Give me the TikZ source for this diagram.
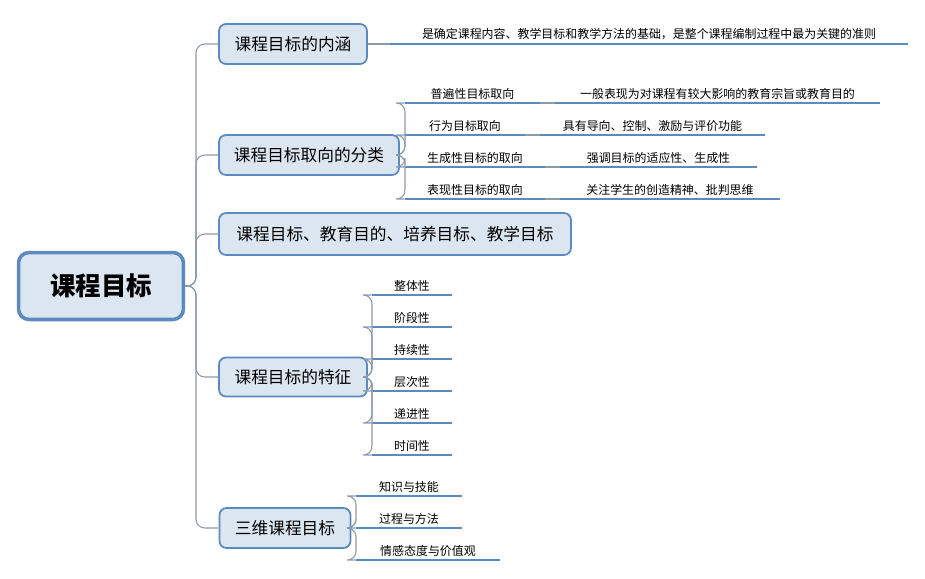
\documentclass[tikz,border=0pt]{standalone}
\usepackage{fontspec}
\setmainfont{Noto Sans CJK SC}
\definecolor{boxfill}{HTML}{DCE6F1}
\definecolor{boxline}{HTML}{5B8AC0}
\definecolor{linegray}{HTML}{8C9AAA}
\tikzset{
  topic/.style={draw=boxline, fill=boxfill, rounded corners=4pt, line width=1pt, font=\fontsize{9.5}{11}\selectfont, inner sep=0pt},
  leaf/.style={anchor=south, inner sep=2pt, font=\fontsize{6.8}{8}\selectfont},
  uline/.style={draw=boxline, line width=1.3pt},
  conn/.style={draw=linegray, line width=0.6pt, rounded corners=5pt}
}
\begin{document}
\begin{tikzpicture}[x=0.02cm, y=-0.02cm]
\useasboundingbox (0,0) rectangle (925,578);
% root
\node[topic, line width=2pt, rounded corners=6pt, minimum width=3.3cm, minimum height=1.34cm,
  font=\fontsize{14.5}{16}\selectfont\bfseries] (root) at (101,286) {课程目标};
% main topics
\node[topic, minimum width=2.96cm, minimum height=0.8cm] (aim) at (293,44) {课程目标的内涵};
\node[topic, minimum width=3.6cm, minimum height=0.8cm] (kind) at (309,155) {课程目标取向的分类};
\node[topic, minimum width=7.04cm, minimum height=0.84cm] (rel) at (395,234) {课程目标、教育目的、培养目标、教学目标};
\node[topic, minimum width=2.96cm, minimum height=0.78cm] (feat) at (293,377) {课程目标的特征};
\node[topic, minimum width=2.62cm, minimum height=0.8cm] (dim) at (285,528) {三维课程目标};
\foreach \t in {aim,kind,rel,feat,dim}
  \draw[conn] (root.east) -- (196,286) |- (\t.west);
% leaves: name / left / right / underline y / text
\foreach \n/\a/\b/\y/\s in {
  def/390/908/44/{是确定课程内容、教学目标和教学方法的基础，是整个课程编制过程中最为关键的准则},
  k1/405/540/103/普遍性目标取向, k2/405/525/135/行为目标取向,
  k3/405/545/167/生成性目标的取向, k4/405/545/199/表现性目标的取向,
  s1/555/880/103/一般表现为对课程有较大影响的教育宗旨或教育目的,
  s2/540/765/135/{具有导向、控制、激励与评价功能},
  s3/560/757/167/{强调目标的适应性、生成性},
  s4/560/780/199/{关注学生的创造精神、批判思维},
  f1/372/452/295/整体性, f2/372/452/327/阶段性, f3/372/452/359/持续性,
  f4/372/452/391/层次性, f5/372/452/423/递进性, f6/372/452/455/时间性,
  d1/356/462/496/知识与技能, d2/356/462/528/过程与方法, d3/356/500/560/情感态度与价值观}
{
  \pgfmathsetmacro\w{(\b-\a)*0.02}
  \node[leaf, minimum width=\w cm] (\n) at ({(\a+\b)/2},\y) {\s};
  \draw[uline] (\n.south west) -- (\n.south east);
}
\draw[conn] (aim.east) -- (def.south west);
\foreach \i in {1,...,4} {
  \draw[conn] (kind.east) -- (405,155) |- (k\i.south west);
  \draw[conn] (k\i.south east) -- (s\i.south west);
}
\foreach \i in {1,...,6}
  \draw[conn] (feat.east) -- (372,377) |- (f\i.south west);
\foreach \i in {1,...,3}
  \draw[conn] (dim.east) -- (356,528) |- (d\i.south west);
\end{tikzpicture}
\end{document}
